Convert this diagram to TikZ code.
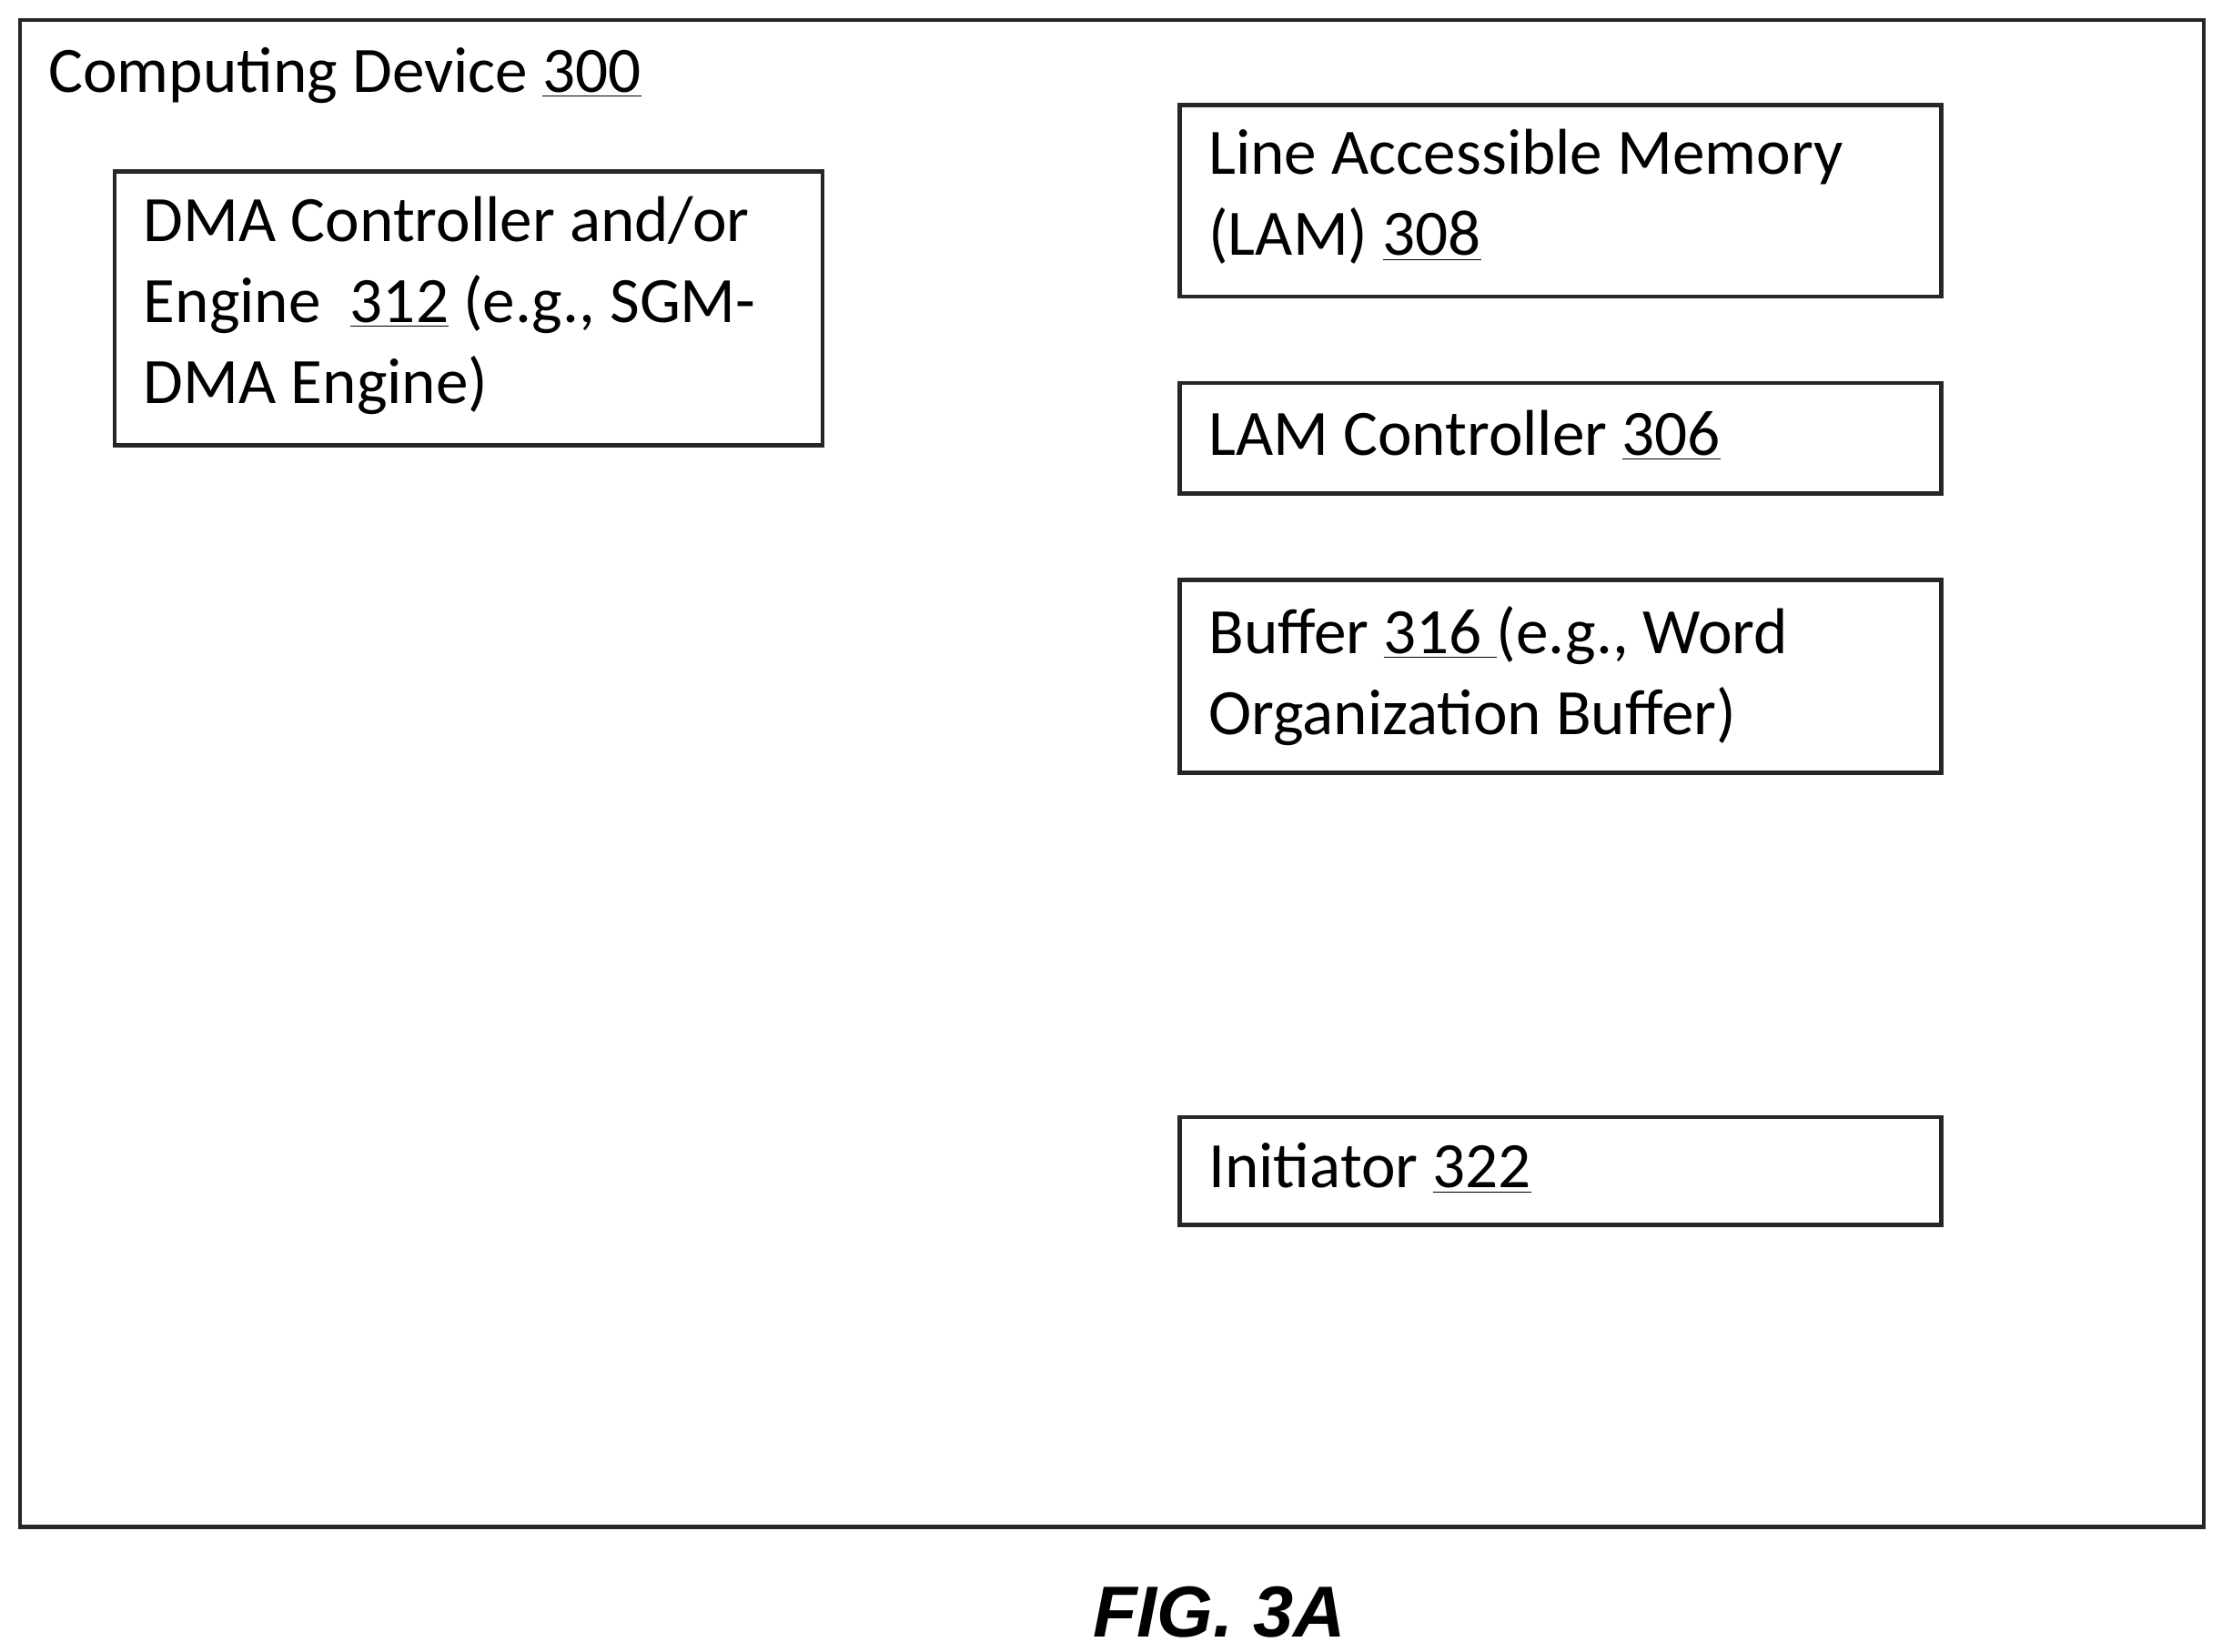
\documentclass[tikz,border=0pt]{standalone}
\usepackage{fontspec}
\setmainfont{Carlito}
\newfontfamily\figfont{Liberation Sans}
\begin{document}
\begin{tikzpicture}[x=0.02cm,y=-0.02cm,
  box/.style={draw=black!85,line width=1.6pt},
  txt/.style={anchor=north west,align=left,inner sep=0pt,font=\fontsize{26}{32.5}\selectfont}]
\useasboundingbox (0,0) rectangle (1567,1165);
\draw[box] (14,14) rectangle (1554,1077);
\node[txt] (title) at (34,33) {Computing Device \underline{300}};
\draw[box] (81,121) rectangle (580,314);
\node[txt] (dma) at (101,138) {DMA Controller and/or\\Engine\ \ \underline{312} (e.g., SGM-\\DMA Engine)};
\draw[box] (832,74) rectangle (1369,209);
\node[txt] (lam) at (852,91) {Line Accessible Memory\\(LAM) \underline{308}};
\draw[box] (832,270) rectangle (1369,348);
\node[txt] (lamc) at (852,289) {LAM Controller \underline{306}};
\draw[box] (832,409) rectangle (1369,545);
\node[txt] (buf) at (852,427) {Buffer \underline{316\ }(e.g., Word\\Organization Buffer)};
\draw[box] (832,788) rectangle (1369,864);
\node[txt] (ini) at (852,806) {Initiator \underline{322}};
\node[font=\figfont\fontsize{29}{34}\selectfont\bfseries\itshape] (fig) at (860,1137) {FIG. 3A};
\end{tikzpicture}
\end{document}
